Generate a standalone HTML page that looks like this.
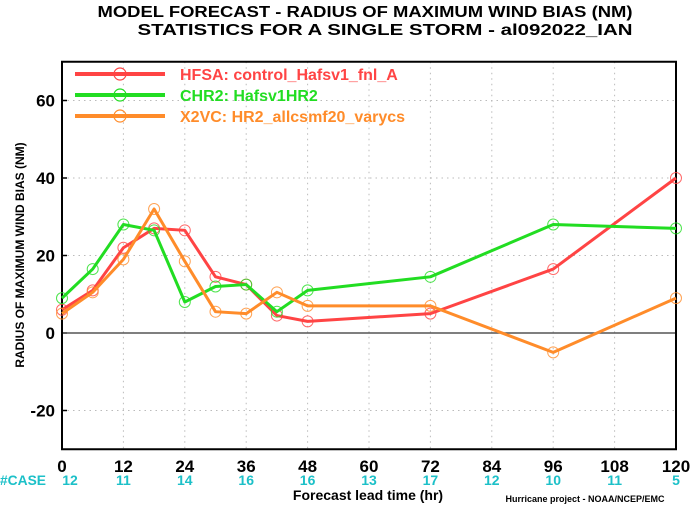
<!DOCTYPE html>
<html><head><meta charset="utf-8"><style>
body{margin:0;background:#fff;width:700px;height:506px;overflow:hidden;font-family:"Liberation Sans",sans-serif}
text{font-family:"Liberation Sans",sans-serif;font-weight:bold}
</style></head><body>
<svg id="chart" width="700" height="506" viewBox="0 0 700 506">
<text x="365" y="17" text-anchor="middle" font-size="16" textLength="535" lengthAdjust="spacingAndGlyphs">MODEL FORECAST - RADIUS OF MAXIMUM WIND BIAS (NM)</text>
<text x="385" y="35" text-anchor="middle" font-size="16" textLength="495" lengthAdjust="spacingAndGlyphs">STATISTICS FOR A SINGLE STORM - al092022_IAN</text>
<g id="grid"></g>
<g id="axes"></g>
<g id="series"></g>
<g id="legend"></g>
<text transform="translate(24,255) rotate(-90)" text-anchor="middle" font-size="12">RADIUS OF MAXIMUM WIND BIAS (NM)</text>
<text x="368" y="500" text-anchor="middle" font-size="14">Forecast lead time (hr)</text>
<text x="585" y="502" text-anchor="middle" font-size="9" font-weight="normal">Hurricane project - NOAA/NCEP/EMC</text>
<text x="0" y="485" font-size="14" fill="#1cc0c8" textLength="46" lengthAdjust="spacingAndGlyphs">#CASE</text>
</svg>
<script>
const leadTimes=[0,6,12,18,24,30,36,42,48,72,96,120];
const hfsa=[6,11,22,27,26.5,14.5,12.5,4.5,3,5,16.5,40];
const chr2=[9,16.5,28,26.5,8,12,12.5,5.5,11,14.5,28,27];
const x2vc=[5,10.5,19,32,18.5,5.5,5,10.5,7,7,-5,9];
const xTicks=[0,12,24,36,48,60,72,84,96,108,120];
const caseCounts=[12,11,14,16,16,13,17,12,10,11,5];
const yTicks=[-20,0,20,40,60];
const seriesNames=["HFSA: control_Hafsv1_fnl_A","CHR2: Hafsv1HR2","X2VC: HR2_allcsmf20_varycs"];
const colors=["#ff4444","#22dd22","#ff8c2a"];
const X0=62,X1=676,Y0=449.25,Y1=61.75,YMIN=-30,YMAX=70;
const sx=v=>X0+(v/120)*(X1-X0);
const sy=v=>Y0-(v-YMIN)/(YMAX-YMIN)*(Y0-Y1);
const NS="http://www.w3.org/2000/svg";
function mk(tag,attrs,parent){const e=document.createElementNS(NS,tag);for(const k in attrs)e.setAttribute(k,attrs[k]);parent.appendChild(e);return e;}
const grid=document.getElementById('grid'),axes=document.getElementById('axes'),ser=document.getElementById('series'),leg=document.getElementById('legend');
xTicks.forEach((t,i)=>{
 if(t>0&&t<120){const l=mk('line',{x1:sx(t),x2:sx(t),y1:Y1,y2:Y0,stroke:'#bbb','stroke-dasharray':'1.5,4'},grid);
 
 }
 const tx=mk('text',{x:sx(t),y:472,'text-anchor':'middle','font-size':'17'},axes);tx.textContent=t;
 
 
 const c=mk('text',{x:sx(t)+(t===0?8:0),y:485,'text-anchor':'middle','font-size':'14',fill:'#1cc0c8'},axes);c.textContent=caseCounts[i];
 
 
});
yTicks.forEach(t=>{
 if(t!==0){const l=mk('line',{x1:X0,x2:X1,y1:sy(t),y2:sy(t),stroke:'#bbb','stroke-dasharray':'1.5,4'},grid);
 
 }
 mk('line',{x1:X0,x2:X0+5,y1:sy(t),y2:sy(t),stroke:'#000','stroke-width':1.5},axes);
 const tx=mk('text',{x:X0-7,y:sy(t)+6,'text-anchor':'end','font-size':'17'},axes);tx.textContent=t;
 
 
});
const zl=mk('line',{x1:X0,x2:X1,y1:sy(0),y2:sy(0),stroke:'#555','stroke-width':1.5},axes);


const fr=mk('rect',{x:X0,y:Y1,width:X1-X0,height:Y0-Y1,fill:'none',stroke:'#000','stroke-width':2},axes);


[hfsa,chr2,x2vc].forEach((d,si)=>{
 const p=mk('polyline',{points:d.map((v,i)=>sx(leadTimes[i])+','+sy(v)).join(' '),fill:'none',stroke:colors[si],'stroke-width':3,'stroke-linejoin':'round'},ser);
 
 
 d.forEach((v,i)=>{const c=mk('circle',{cx:sx(leadTimes[i]),cy:sy(v),r:5.5,fill:'none',stroke:colors[si],'stroke-width':1,opacity:0.8},ser);
 
 });
 const ly=74+si*21;
 mk('line',{x1:75,x2:165,y1:ly,y2:ly,stroke:colors[si],'stroke-width':4},leg);
 mk('circle',{cx:120,cy:ly,r:6,fill:'none',stroke:colors[si],'stroke-width':1.2},leg);
 const t=mk('text',{x:180,y:ly+6,'font-size':'16',fill:colors[si],'font-weight':'normal'},leg);t.textContent=seriesNames[si];
 
 
});
</script>
</body></html>
